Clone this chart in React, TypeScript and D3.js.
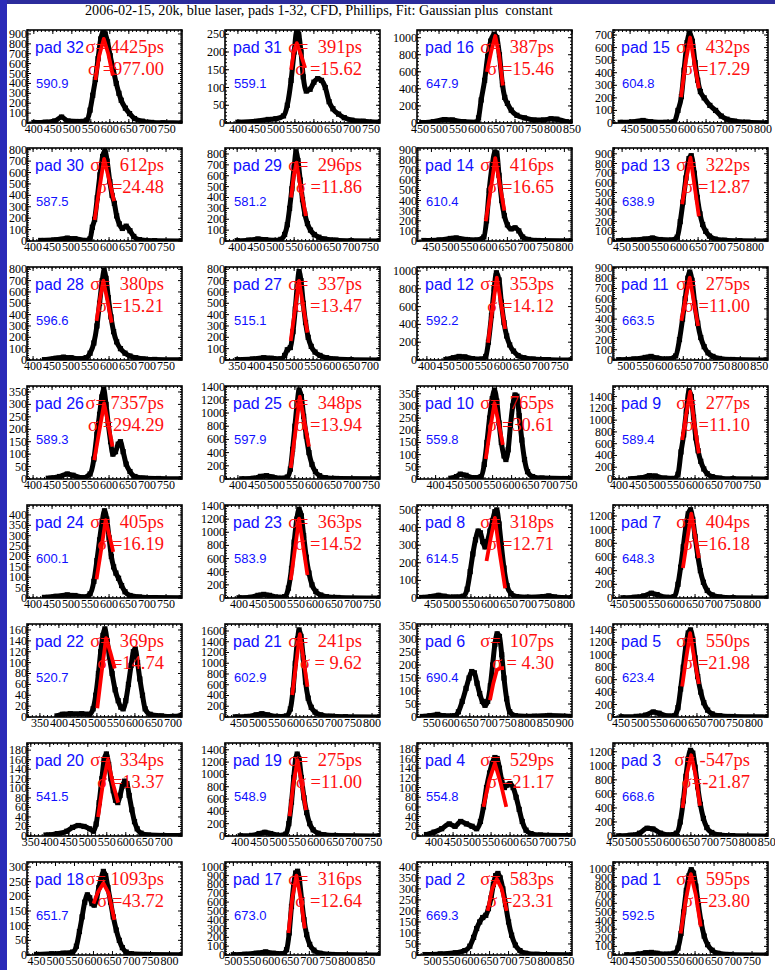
import React from "react";
import * as d3 from "d3";

const W = 775;
const H = 970;
const colLeft = [27, 225, 417, 613];
const rowTop = [30, 148, 267, 386, 505, 624, 743, 862];
const frameW = 155;
const frameH = 93;
const xSpan = 408;

const title = "2006-02-15, 20k, blue laser, pads 1-32, CFD, Phillips, Fit: Gaussian plus  constant";

// grid order, left to right, top to bottom
const padNames = [32, 31, 16, 15, 30, 29, 14, 13, 28, 27, 12, 11, 26, 25, 10, 9, 24, 23, 8, 7, 22, 21, 6, 5, 20, 19, 4, 3, 18, 17, 2, 1];
const meanLabels = [
  "590.9", "559.1", "647.9", "604.8", "587.5", "581.2", "610.4", "638.9",
  "596.6", "515.1", "592.2", "663.5", "589.3", "597.9", "559.8", "589.4",
  "600.1", "583.9", "614.5", "648.3", "520.7", "602.9", "690.4", "623.4",
  "541.5", "548.9", "554.8", "668.6", "651.7", "673.0", "669.3", "592.5",
];
const sigmaPs = [
  "4425", "391", "387", "432", "612", "296", "416", "322",
  "380", "337", "353", "275", "7357", "348", "765", "277",
  "405", "363", "318", "404", "369", "241", "107", "550",
  "334", "275", "529", "-547", "1093", "316", "583", "595",
];
const sigmaVals = [
  " =977.00", " =15.62", " =15.46", " =17.29", " =24.48", " =11.86", " =16.65", " =12.87",
  " =15.21", " =13.47", " =14.12", " =11.00", " =294.29", " =13.94", " =30.61", " =11.10",
  " =16.19", " =14.52", " =12.71", " =16.18", " =14.74", " = 9.62", " = 4.30", " =21.98",
  " =13.37", " =11.00", " =21.17", "=-21.87", " =43.72", " =12.64", " =23.31", " =23.80",
];
const xStarts = [382, 366, 442, 405, 384, 368, 412, 426, 384, 318, 374, 465, 384, 366, 351, 384, 384, 363, 408, 434, 316, 413, 511, 429, 340, 360, 355, 445, 425, 478, 459, 384];
const yMaxes = [940, 262, 1090, 740, 815, 855, 920, 960, 820, 820, 1045, 910, 374, 1410, 382, 1580, 448, 1415, 528, 1360, 171, 1730, 358, 1495, 195, 1510, 192, 1325, 317, 1055, 422, 1080];
const ySteps = [100, 50, 200, 100, 100, 100, 100, 100, 100, 100, 200, 100, 50, 200, 50, 200, 50, 200, 100, 200, 20, 200, 50, 200, 20, 200, 20, 200, 50, 100, 50, 100];

type Pt = [number, number];

const curve32: Pt[] = [[400,5],[430,8],[455,20],[473,60],[490,20],[520,15],[540,30],[548,130],[555,280],[562,440],[569,650],[576,850],[582,920],[588,900],[594,820],[601,680],[609,540],[617,400],[624,300],[630,230],[641,150],[652,95],[665,45],[686,18],[710,6],[740,2],[790,1]];
const curve31: Pt[] = [[400,2],[450,5],[480,10],[500,12],[520,20],[530,50],[540,120],[548,200],[555,260],[560,250],[566,200],[572,130],[580,90],[590,95],[600,115],[610,125],[620,120],[630,100],[640,60],[650,40],[665,25],[680,15],[700,8],[730,5],[772,2]];
const curve16: Pt[] = [[455,5],[485,15],[515,40],[535,35],[565,15],[600,10],[604,60],[611,270],[620,500],[628,780],[636,960],[645,1040],[652,1000],[659,800],[667,450],[673,300],[680,230],[690,150],[705,90],[725,60],[750,35],[775,35],[795,50],[810,45],[835,15],[850,5]];
const curve15: Pt[] = [[424,5],[454,8],[484,20],[504,10],[544,5],[566,10],[576,100],[585,210],[592,420],[600,640],[607,715],[614,650],[621,480],[628,340],[635,250],[645,200],[660,140],[675,100],[690,55],[705,30],[725,15],[760,6],[812,2]];
const curve30: Pt[] = [[420,5],[460,10],[490,25],[510,20],[540,5],[550,20],[556,120],[562,190],[569,380],[576,580],[583,740],[589,790],[595,700],[602,520],[608,400],[614,330],[620,220],[627,150],[635,110],[645,130],[655,90],[665,40],[680,12],[720,3],[790,1]];
const curve29: Pt[] = [[400,3],[430,8],[455,18],[475,12],[500,5],[515,15],[525,60],[532,150],[538,300],[544,480],[550,680],[555,820],[560,740],[566,560],[572,380],[578,250],[585,160],[593,100],[603,60],[615,35],[630,18],[660,8],[700,3],[774,1]];
const curve14: Pt[] = [[430,5],[470,10],[500,25],[515,30],[540,15],[570,10],[588,40],[595,200],[602,500],[610,750],[617,880],[622,870],[628,650],[635,400],[642,250],[650,160],[660,120],[670,130],[680,100],[690,40],[705,15],[730,5],[818,2]];
const curve13: Pt[] = [[440,3],[480,10],[510,20],[530,30],[550,15],[580,10],[595,40],[603,200],[610,400],[618,650],[626,850],[632,880],[640,700],[648,450],[655,280],[662,170],[670,100],[680,50],[695,20],[720,8],[760,3],[832,1]];
const curve28: Pt[] = [[430,3],[460,15],[480,25],[500,20],[520,10],[540,20],[550,60],[560,150],[568,300],[575,500],[582,700],[587,790],[592,720],[598,550],[605,380],[612,250],[620,160],[630,100],[642,60],[655,35],[670,20],[690,10],[720,5],[790,2]];
const curve27: Pt[] = [[350,3],[390,8],[420,20],[440,15],[465,10],[475,40],[482,90],[490,110],[497,250],[503,450],[508,650],[513,780],[518,700],[524,500],[530,330],[537,200],[545,120],[555,70],[568,40],[585,20],[610,8],[650,3],[724,1]];
const curve12: Pt[] = [[450,5],[470,25],[485,40],[500,35],[520,15],[545,10],[555,40],[562,200],[570,500],[577,800],[583,980],[590,900],[596,650],[603,420],[610,270],[618,170],[628,100],[640,50],[655,25],[680,10],[720,4],[780,1]];
const curve11: Pt[] = [[480,3],[520,10],[550,25],[565,35],[580,20],[610,10],[630,40],[640,200],[648,400],[655,600],[662,800],[667,860],[673,780],[680,560],[688,360],[696,220],[705,130],[715,70],[728,35],[745,15],[780,5],[870,1]];
const curve26: Pt[] = [[440,3],[470,10],[490,20],[505,15],[530,5],[550,20],[560,80],[568,180],[575,260],[581,330],[586,360],[592,300],[598,220],[604,150],[610,100],[617,110],[624,140],[630,150],[637,110],[645,60],[655,30],[668,10],[690,4],[730,2],[790,1]];
const curve25: Pt[] = [[410,3],[440,10],[460,40],[475,50],[490,30],[515,10],[530,30],[538,150],[544,450],[550,800],[556,1150],[561,1350],[567,1250],[573,950],[580,650],[587,400],[595,220],[604,110],[615,50],[630,20],[660,8],[772,2]];
const curve10: Pt[] = [[440,3],[455,10],[465,20],[480,15],[500,5],[520,10],[528,60],[535,150],[542,250],[549,330],[555,365],[561,320],[567,230],[573,150],[580,95],[585,80],[591,120],[597,220],[603,300],[609,345],[614,340],[620,260],[627,160],[634,80],[642,30],[655,10],[680,4],[740,2],[758,3]];
const curve9: Pt[] = [[430,3],[460,20],[480,55],[495,50],[520,15],[545,10],[555,80],[563,460],[570,750],[577,1150],[584,1500],[590,1400],[596,1050],[602,700],[608,480],[615,300],[623,170],[632,90],[645,40],[665,15],[700,5],[790,1]];
const curve24: Pt[] = [[430,3],[460,8],[490,15],[510,12],[535,5],[550,20],[560,80],[568,180],[575,280],[582,370],[588,420],[594,380],[600,290],[606,200],[612,150],[618,120],[625,95],[633,60],[642,30],[655,12],[680,5],[720,2],[790,1]];
const curve23: Pt[] = [[400,3],[430,10],[450,40],[465,55],[480,40],[505,10],[520,20],[530,150],[538,450],[545,850],[552,1200],[558,1350],[564,1250],[570,950],[577,620],[584,380],[592,200],[602,100],[615,45],[630,20],[660,8],[770,1]];
const curve8: Pt[] = [[420,3],[445,8],[465,15],[480,10],[510,5],[530,10],[540,50],[548,150],[555,250],[562,330],[569,380],[575,370],[581,320],[587,290],[593,320],[600,380],[607,440],[613,490],[618,500],[624,420],[630,300],[637,170],[645,70],[655,25],[670,8],[700,4],[740,8],[755,12],[770,6],[815,2]];
const curve7: Pt[] = [[460,3],[490,10],[515,30],[535,70],[550,50],[575,10],[595,20],[605,200],[612,450],[619,750],[626,1050],[632,1230],[638,1290],[644,1150],[650,900],[657,620],[664,400],[672,230],[682,110],[695,45],[715,15],[750,5],[840,1]];
const curve22: Pt[] = [[395,2],[410,5],[430,6],[460,6],[480,5],[490,15],[497,40],[504,80],[510,120],[516,150],[521,162],[527,140],[533,110],[540,80],[548,50],[556,30],[563,18],[569,15],[576,30],[583,60],[590,95],[596,120],[601,125],[607,100],[613,70],[620,40],[627,15],[640,5],[670,2],[700,1],[722,3]];
const curve21: Pt[] = [[440,3],[470,10],[495,40],[510,60],[525,40],[550,10],[575,20],[585,150],[592,500],[598,1000],[604,1450],[608,1620],[613,1500],[619,1100],[625,650],[632,350],[640,180],[650,90],[665,40],[690,15],[730,5],[820,2]];
const curve6: Pt[] = [[525,2],[545,5],[565,10],[580,5],[610,5],[620,20],[630,60],[640,110],[648,150],[655,175],[662,170],[669,130],[676,90],[683,60],[690,45],[697,60],[704,120],[710,200],[716,280],[722,320],[728,310],[734,240],[740,150],[747,70],[755,20],[770,5],[820,3],[860,6],[918,2]];
const curve5: Pt[] = [[450,3],[490,10],[515,30],[535,80],[550,60],[575,15],[590,20],[600,150],[607,450],[614,800],[621,1150],[627,1350],[633,1400],[639,1250],[645,950],[652,650],[660,400],[668,230],[678,110],[690,50],[710,20],[740,8],[836,2]];
const curve20: Pt[] = [[390,2],[420,5],[445,10],[460,18],[475,22],[490,20],[505,15],[515,10],[522,25],[530,70],[537,120],[543,160],[549,172],[555,150],[561,120],[567,95],[573,75],[579,70],[585,85],[591,105],[597,115],[603,110],[609,85],[616,55],[623,30],[630,15],[640,6],[660,2],[700,1],[746,1]];
const curve19: Pt[] = [[400,3],[430,10],[450,40],[465,60],[480,40],[505,10],[520,30],[528,200],[535,550],[541,950],[546,1250],[550,1330],[555,1250],[561,950],[568,620],[575,380],[583,200],[592,100],[605,45],[620,20],[650,8],[766,2]];
const curve4: Pt[] = [[380,3],[400,8],[420,15],[440,25],[455,20],[470,30],[485,25],[500,20],[512,15],[522,30],[530,60],[538,100],[546,130],[553,150],[560,162],[566,160],[572,140],[578,115],[585,100],[592,105],[600,108],[608,100],[616,80],[624,55],[632,30],[642,12],[655,5],[680,2],[762,1]];
const curve3: Pt[] = [[460,3],[490,10],[515,40],[535,110],[550,100],[570,40],[595,15],[612,40],[622,200],[630,500],[637,850],[643,1100],[649,1220],[655,1180],[661,980],[668,700],[675,450],[683,250],[692,120],[705,50],[725,15],[760,5],[852,1]];
const curve18: Pt[] = [[450,2],[490,4],[520,6],[545,10],[555,30],[563,80],[570,130],[577,180],[584,205],[590,195],[596,175],[602,170],[608,190],[614,230],[620,260],[626,285],[632,270],[638,230],[645,180],[652,130],[660,85],[668,50],[676,25],[686,10],[700,4],[740,2],[832,1]];
const curve17: Pt[] = [[500,3],[530,8],[560,20],[585,35],[605,20],[630,15],[640,60],[647,250],[653,550],[659,800],[664,930],[669,950],[674,850],[680,620],[686,400],[693,230],[701,120],[712,55],[728,20],[760,6],[885,1]];
const curve2: Pt[] = [[480,2],[520,5],[560,10],[585,20],[598,40],[608,80],[616,120],[624,150],[632,170],[640,180],[647,210],[654,260],[660,320],[666,360],[672,370],[678,350],[685,300],[692,230],[700,150],[708,90],[718,45],[730,20],[745,8],[775,3],[866,1]];
const curve1: Pt[] = [[420,3],[450,10],[470,25],[485,30],[500,20],[525,10],[545,20],[555,80],[563,250],[570,500],[577,750],[584,920],[590,990],[596,950],[602,800],[609,580],[616,380],[624,220],[633,120],[645,55],[660,20],[690,6],[790,1]];

const fit32: Pt[] = [[562,435],[572,680],[584,850],[596,700],[608,480]];
const fit31: Pt[] = [[540,150],[548,205],[555,225],[565,195],[577,155]];
const fit16: Pt[] = [[626,600],[638,850],[648,1020],[658,800],[668,440]];
const fit15: Pt[] = [[584,205],[596,480],[608,680],[619,480],[631,275]];
const fit30: Pt[] = [[562,184],[575,470],[587,720],[600,540],[613,350]];
const fit29: Pt[] = [[542,400],[549,600],[556,720],[568,470],[581,230]];
const fit14: Pt[] = [[593,195],[605,480],[618,820],[630,560],[642,300]];
const fit13: Pt[] = [[608,380],[619,640],[630,860],[641,560],[652,255]];
const fit28: Pt[] = [[567,345],[576,540],[585,700],[596,520],[607,330]];
const fit27: Pt[] = [[491,168],[502,440],[513,697],[524,470],[535,241]];
const fit12: Pt[] = [[561,194],[572,560],[584,925],[595,640],[606,348]];
const fit11: Pt[] = [[645,382],[656,600],[667,805],[678,570],[689,333]];
const fit26: Pt[] = [[561,76],[574,190],[587,304],[598,220],[609,130]];
const fit25: Pt[] = [[539,167],[551,700],[563,1247],[575,870],[587,490]];
const fit10: Pt[] = [[532,82],[543,200],[555,312],[566,230],[577,140]];
const fit9: Pt[] = [[566,663],[576,1070],[587,1483],[598,960],[610,435]];
const fit24: Pt[] = [[567,90],[579,230],[591,375],[601,300],[611,222]];
const fit23: Pt[] = [[536,274],[547,740],[558,1207],[569,780],[580,350]];
const fit8: Pt[] = [[591,210],[602,340],[613,455],[626,250],[640,55]];
const fit7: Pt[] = [[618,438],[629,840],[640,1233],[650,910],[660,584]];
const fit22: Pt[] = [[501,16],[512,80],[524,145],[535,120],[547,89]];
const fit21: Pt[] = [[590,409],[600,980],[610,1540],[620,1050],[630,564]];
const fit6: Pt[] = [[703,65],[712,130],[721,180],[730,188],[740,188]];
const fit5: Pt[] = [[611,490],[621,920],[632,1347],[643,940],[655,531]];
const fit20: Pt[] = [[527,40],[540,110],[553,160],[566,110],[580,70]];
const fit19: Pt[] = [[530,320],[540,850],[551,1230],[562,850],[573,420]];
const fit4: Pt[] = [[530,60],[545,115],[560,150],[575,110],[590,60]];
const fit3: Pt[] = [[628,400],[640,900],[651,1150],[662,880],[674,430]];
const fit18: Pt[] = [[600,175],[612,215],[626,245],[640,210],[655,120]];
const fit17: Pt[] = [[645,250],[655,640],[666,900],[677,650],[688,300]];
const fit2: Pt[] = [[645,200],[657,300],[669,345],[682,300],[695,200]];
const fit1: Pt[] = [[562,250],[576,650],[589,940],[602,700],[615,330]];

const curves = [curve32, curve31, curve16, curve15, curve30, curve29, curve14, curve13, curve28, curve27, curve12, curve11, curve26, curve25, curve10, curve9, curve24, curve23, curve8, curve7, curve22, curve21, curve6, curve5, curve20, curve19, curve4, curve3, curve18, curve17, curve2, curve1];
const fits = [fit32, fit31, fit16, fit15, fit30, fit29, fit14, fit13, fit28, fit27, fit12, fit11, fit26, fit25, fit10, fit9, fit24, fit23, fit8, fit7, fit22, fit21, fit6, fit5, fit20, fit19, fit4, fit3, fit18, fit17, fit2, fit1];

const serif = "'Liberation Serif', 'Times New Roman', serif";
const sans = "'Liberation Sans', Arial, sans-serif";

function Panel({ i }: { i: number }) {
  const L = colLeft[i % 4];
  const T = rowTop[Math.floor(i / 4)];
  const B = T + frameH;
  const R = L + frameW;
  const x0 = xStarts[i];
  const x1 = x0 + xSpan;
  const x = d3.scaleLinear().domain([x0, x1]).range([L, R]);
  const y = d3.scaleLinear().domain([0, yMaxes[i]]).range([B, T]);

  const line = d3.line<Pt>().x((d) => x(d[0])).y((d) => y(d[1])).curve(d3.curveMonotoneX);
  const fitLine = d3.line<Pt>().x((d) => x(d[0])).y((d) => y(d[1]));

  const xMajor = d3.range(Math.ceil(x0 / 50) * 50, x1 + 0.01, 50);
  const xMinor = d3.range(Math.ceil(x0 / 10) * 10, x1 + 0.01, 10);
  const step = ySteps[i];
  const yMajor = d3.range(0, yMaxes[i] + 0.01, step);
  const yMinor = d3.range(0, yMaxes[i] + 0.01, step / 5);
  const clipId = `clip${i}`;

  return (
    <g>
      <defs>
        <clipPath id={clipId}>
          <rect x={L} y={T} width={frameW} height={frameH} />
        </clipPath>
      </defs>
      <g clipPath={`url(#${clipId})`}>
        <path d={line(curves[i]) || ""} fill="none" stroke="#000" strokeWidth={5} strokeLinejoin="round" />
        {curves[i].map((d, k) => (
          <rect key={k} x={x(d[0]) - 2.6} y={y(d[1]) - 2.6} width={5.2} height={5.2} fill="#000" />
        ))}
        <path d={fitLine(fits[i]) || ""} fill="none" stroke="#ff0000" strokeWidth={3.8} strokeLinejoin="round" />
      </g>
      {xMinor.map((v) => (
        <g key={"xm" + v} stroke="#000" strokeWidth={1}>
          <line x1={x(v)} x2={x(v)} y1={B} y2={B - 2} />
          <line x1={x(v)} x2={x(v)} y1={T} y2={T + 2} />
        </g>
      ))}
      {xMajor.map((v) => (
        <g key={"xM" + v} stroke="#000" strokeWidth={1}>
          <line x1={x(v)} x2={x(v)} y1={B} y2={B - 4} />
          <line x1={x(v)} x2={x(v)} y1={T} y2={T + 4} />
        </g>
      ))}
      {yMinor.map((v) => (
        <g key={"ym" + v} stroke="#000" strokeWidth={1}>
          <line x1={L} x2={L + 2} y1={y(v)} y2={y(v)} />
          <line x1={R} x2={R - 2} y1={y(v)} y2={y(v)} />
        </g>
      ))}
      {yMajor.map((v) => (
        <g key={"yM" + v} stroke="#000" strokeWidth={1}>
          <line x1={L} x2={L + 4} y1={y(v)} y2={y(v)} />
          <line x1={R} x2={R - 4} y1={y(v)} y2={y(v)} />
        </g>
      ))}
      <rect x={L} y={T} width={frameW} height={frameH} fill="none" stroke="#000" strokeWidth={1.6} />
      {yMajor.map((v) => (
        <text key={"yl" + v} x={L} y={y(v) + 4} textAnchor="end" fontFamily={serif} fontSize={12} fill="#000">
          {v}
        </text>
      ))}
      {xMajor.map((v) => (
        <text key={"xl" + v} x={x(v)} y={B + 9.5} textAnchor="middle" fontFamily={serif} fontSize={12} fill="#000">
          {v}
        </text>
      ))}
      <text x={L + 8} y={T + 22.5} fontFamily={sans} fontSize={16} fill="#1010ff">
        {"pad " + padNames[i]}
      </text>
      <text x={L + 9} y={T + 57.5} fontFamily={sans} fontSize={13} fill="#1010ff">
        {meanLabels[i]}
      </text>
      <text x={L + 137} y={T + 22.5} textAnchor="end" fontFamily={serif} fontSize={18.5} fill="#ff1010" style={{ whiteSpace: "pre" }}>
        {"σ= " + sigmaPs[i].padStart(4, " ") + "ps"}
      </text>
      <text x={L + 137} y={T + 45} textAnchor="end" fontFamily={serif} fontSize={18.5} fill="#ff1010" style={{ whiteSpace: "pre" }}>
        {"σ" + sigmaVals[i]}
      </text>
    </g>
  );
}

export default function App() {
  return (
    <div style={{ position: "absolute", left: 0, top: 0 }}>
      <svg width={W} height={H} style={{ display: "block", background: "#fff" }}>
        <rect x={0} y={0} width={W} height={H} fill="#fff" />
        <rect x={0} y={0} width={W} height={4} fill="#2c2c9c" />
        <rect x={0} y={0} width={7} height={H} fill="#2a2ab8" />
        <text x={85} y={15} fontFamily={serif} fontSize={14.2} fill="#000" style={{ whiteSpace: "pre" }}>
          {title}
        </text>
        {padNames.map((_, i) => (
          <Panel key={i} i={i} />
        ))}
      </svg>
    </div>
  );
}
